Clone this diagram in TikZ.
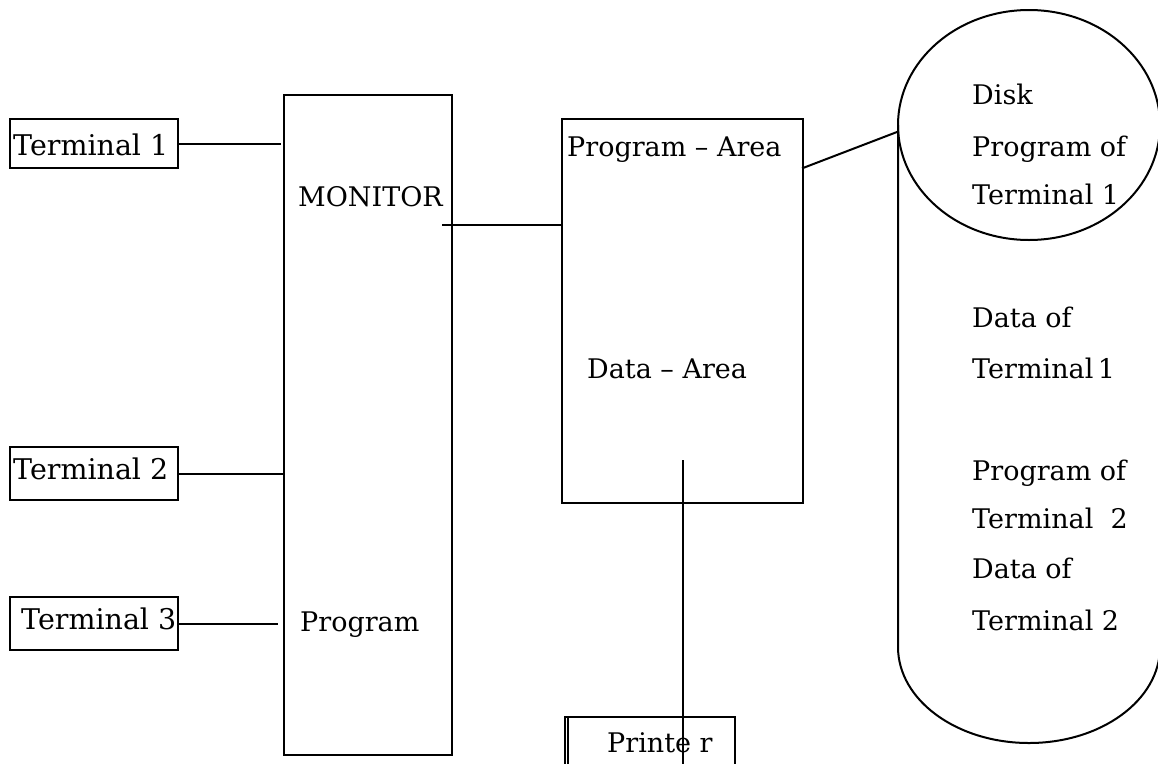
\documentclass[tikz,border=0pt]{standalone}
\usepackage{fontspec}
\setmainfont{DejaVu Serif}
\usetikzlibrary{shapes.geometric}
\tikzset{
  x=1pt, y=-1pt,
  wire/.style={line width=2pt, line cap=rect},
  box/.style={draw, line width=2pt, inner sep=0pt},
  txt/.style={inner sep=0pt, font=\fontsize{27}{32}\selectfont, anchor=base west},
  termtxt/.style={txt, font=\fontsize{28.5}{34}\selectfont},
}
\begin{document}
\begin{tikzpicture}
\useasboundingbox (0,0) rectangle (1158,763);
\clip (0,0) rectangle (1158,763);

% terminals
\node[box, minimum width=168pt, minimum height=49pt] (t1) at (94,143.5) {};
\node[box, minimum width=168pt, minimum height=53pt] (t2) at (94,473.5) {};
\node[box, minimum width=168pt, minimum height=53pt] (t3) at (94,623.5) {};
\node[termtxt] (t1l) at (13,155) {Terminal 1};
\node[termtxt] (t2l) at (13,479) {Terminal 2};
\node[termtxt] (t3l) at (21,629) {Terminal 3};

% monitor program
\node[box, minimum width=168pt, minimum height=660pt] (mon) at (368,425) {};
\node[txt] (monl) at (298,206) {MONITOR};
\node[txt] (progl) at (300,631) {Program};

% main memory
\node[box, minimum width=241pt, minimum height=384pt] (mem) at (682.5,311) {};
\node[txt] (pal) at (567,156) {Program – Area};
\node[txt] (dal) at (587,378) {Data – Area};

% printer
\node[box, minimum width=170pt, minimum height=58pt] (prn) at (650,746) {};
\draw[wire] (568,717) -- (568,763);
\node[txt] (prnl) at (607,752) {Printe r};

% disk
\node[ellipse, draw, line width=2pt, minimum width=262pt, minimum height=230pt, inner sep=0pt] (disk) at (1029,125) {};
\draw[line width=2pt] (898,125) -- (898,647) arc[start angle=180, end angle=360, x radius=131, y radius=-96] -- (1160,125);
\node[txt] (d1) at (972,104) {Disk};
\node[txt] (d2) at (972,156) {Program of};
\node[txt] (d3) at (972,204) {Terminal 1};
\node[txt] (d4) at (972,327) {Data of};
\node[txt] (d5) at (972,378) {Terminal\,1};
\node[txt] (d6) at (972,480) {Program of};
\node[txt] (d7) at (972,528) {Terminal~~2};
\node[txt] (d8) at (972,578) {Data of};
\node[txt] (d9) at (972,630) {Terminal 2};

% connectors
\draw[wire, shorten >=3pt] (t1.east) -- (t1.east -| mon.west);
\draw[wire] (t2.east) -- (t2.east -| mon.west);
\draw[wire, shorten >=6pt] (t3.east) -- (t3.east -| mon.west);
\coordinate (monport) at (443,225);
\draw[wire] (monport) -- (monport -| mem.west);
\coordinate (memport) at (803,168);
\draw[wire] (memport) -- (disk.183);
\coordinate (memtap) at (683,461);
\draw[wire] (memtap) -- (memtap |- prn.south);
\end{tikzpicture}
\end{document}
